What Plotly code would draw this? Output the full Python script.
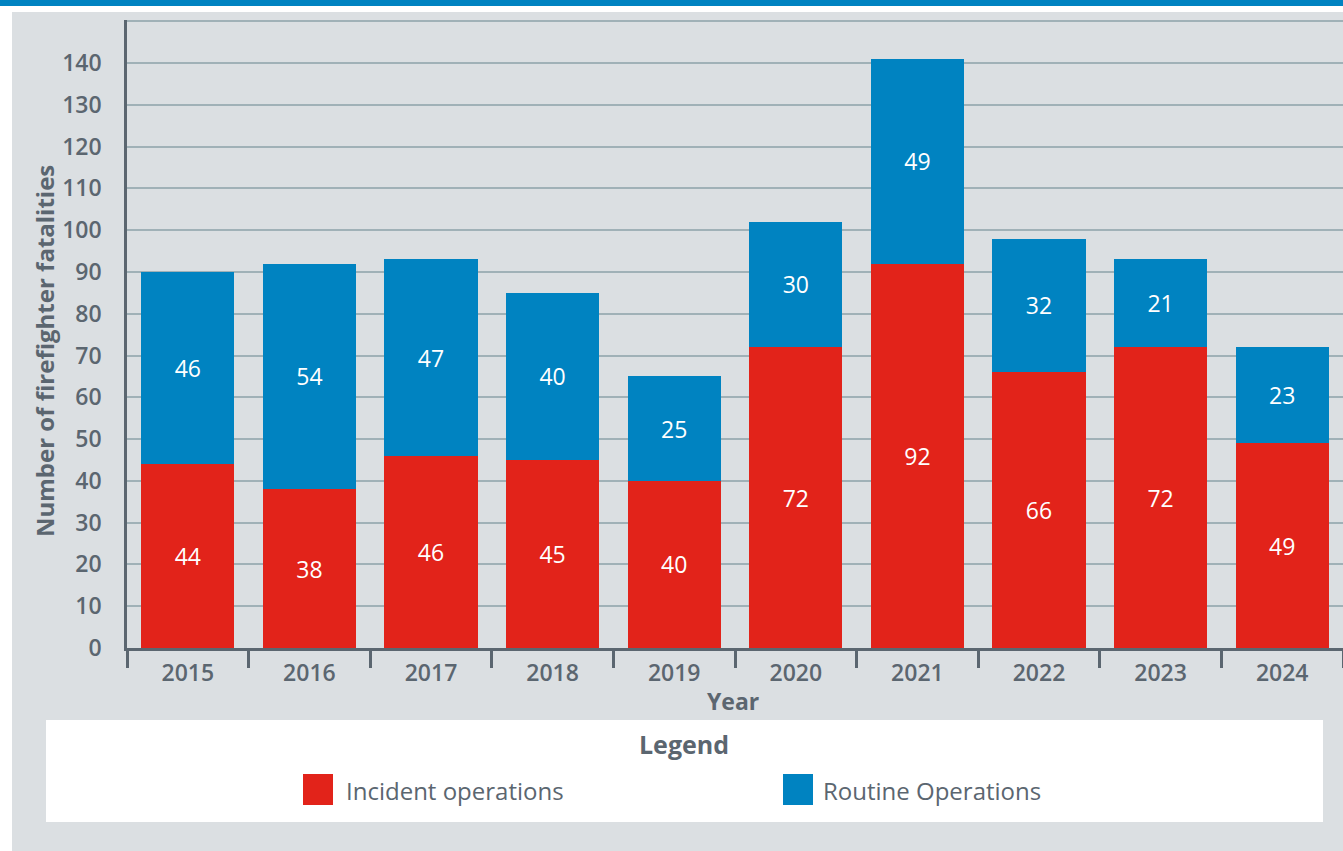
import plotly.graph_objects as go

# Firefighter fatalities by operation type, 2015-2024
years = [2015, 2016, 2017, 2018, 2019, 2020, 2021, 2022, 2023, 2024]
incident_ops = [44, 38, 46, 45, 40, 72, 92, 66, 72, 49]
routine_ops = [46, 54, 47, 40, 25, 30, 49, 32, 21, 23]
series_names = ["Incident operations", "Routine Operations"]
y_tick_values = list(range(0, 151, 10))
y_tick_labels = [str(v) if v <= 140 else "" for v in y_tick_values]

RED = "#e2231a"
BLUE = "#0083c1"
PANEL = "#dbdfe2"
GRID = "#a0b1b7"
AXIS = "#5b6670"
TEXT = "#5b6670"
FONT = "Open Sans"

W, H = 1343, 851
L, R, T, B = 127, 0, 20, 203
PW, PH = W - L - R, H - T - B
Y_MAX = 150.3


def px(xp):
    return (xp - L) / PW


def py(yp):
    return (H - B - yp) / PH


fig = go.Figure()
for name, vals, col in [(series_names[0], incident_ops, RED), (series_names[1], routine_ops, BLUE)]:
    fig.add_trace(go.Bar(
        x=years, y=vals, name=name, marker=dict(color=col, line=dict(width=0)),
        texttemplate="%{y}", textposition="inside", insidetextanchor="middle",
        textangle=0, textfont=dict(family=FONT, size=23, color="white"),
        hoverinfo="skip", showlegend=False,
    ))

shapes = [
    # page banner and grey panel
    dict(type="rect", xref="paper", yref="paper", x0=px(0), x1=px(W), y0=py(0), y1=py(6),
         fillcolor=BLUE, line=dict(width=0), layer="below"),
    dict(type="rect", xref="paper", yref="paper", x0=px(12), x1=px(W + 5), y0=py(12), y1=py(H + 5),
         fillcolor=PANEL, line=dict(width=0), layer="below"),
    # legend box
    dict(type="rect", xref="paper", yref="paper", x0=px(46), x1=px(1323), y0=py(720), y1=py(822),
         fillcolor="white", line=dict(width=0), layer="below"),
    dict(type="rect", xref="paper", yref="paper", x0=px(303), x1=px(333), y0=py(774), y1=py(805),
         fillcolor=RED, line=dict(width=0)),
    dict(type="rect", xref="paper", yref="paper", x0=px(783), x1=px(813), y0=py(774), y1=py(805),
         fillcolor=BLUE, line=dict(width=0)),
]

annotations = [
    dict(text="Number of firefighter fatalities", xref="paper", yref="paper", x=px(44), y=py(351),
         xanchor="center", yanchor="middle", textangle=-90, showarrow=False,
         font=dict(family=FONT, size=24, color=TEXT, weight=700)),
    dict(text="Year", xref="paper", yref="paper", x=px(733), y=py(701),
         xanchor="center", yanchor="middle", showarrow=False,
         font=dict(family=FONT, size=23, color=TEXT, weight=700)),
    dict(text="Legend", xref="paper", yref="paper", x=px(684), y=py(744),
         xanchor="center", yanchor="middle", showarrow=False,
         font=dict(family=FONT, size=25, color=TEXT, weight=700)),
    dict(text=series_names[0], xref="paper", yref="paper", x=px(344), y=py(790),
         xanchor="left", yanchor="middle", showarrow=False,
         font=dict(family=FONT, size=24, color=TEXT)),
    dict(text=series_names[1], xref="paper", yref="paper", x=px(821), y=py(790),
         xanchor="left", yanchor="middle", showarrow=False,
         font=dict(family=FONT, size=24, color=TEXT)),
]

fig.update_layout(
    width=W, height=H,
    margin=dict(l=L, r=R, t=T, b=B, pad=0),
    paper_bgcolor="white", plot_bgcolor=PANEL,
    barmode="stack", bargap=0.235,
    font=dict(family=FONT, color=TEXT),
    shapes=shapes, annotations=annotations,
    showlegend=False,
    xaxis=dict(
        range=[years[0] - 0.5, years[-1] + 0.5],
        tickvals=years, ticktext=[str(y) for y in years],
        ticks="", showgrid=False, zeroline=False,
        showline=True, linecolor=AXIS, linewidth=2.5,
        tickfont=dict(family=FONT, size=23, color=TEXT, weight=600),
        ticklabelstandoff=3,
        minor=dict(ticks="outside", ticklen=17, tickwidth=2.5, tickcolor=AXIS,
                   tick0=years[0] - 0.5, dtick=1, showgrid=False),
        fixedrange=True,
    ),
    yaxis=dict(
        range=[0, Y_MAX], tickvals=y_tick_values, ticktext=y_tick_labels,
        showgrid=True, gridcolor=GRID, gridwidth=2,
        zeroline=False, showline=True, linecolor=AXIS, linewidth=2.5,
        ticks="", ticklabelstandoff=18,
        tickfont=dict(family=FONT, size=23, color=TEXT, weight=600),
        fixedrange=True,
    ),
)

fig.write_html("out.html", config={"displayModeBar": False})
